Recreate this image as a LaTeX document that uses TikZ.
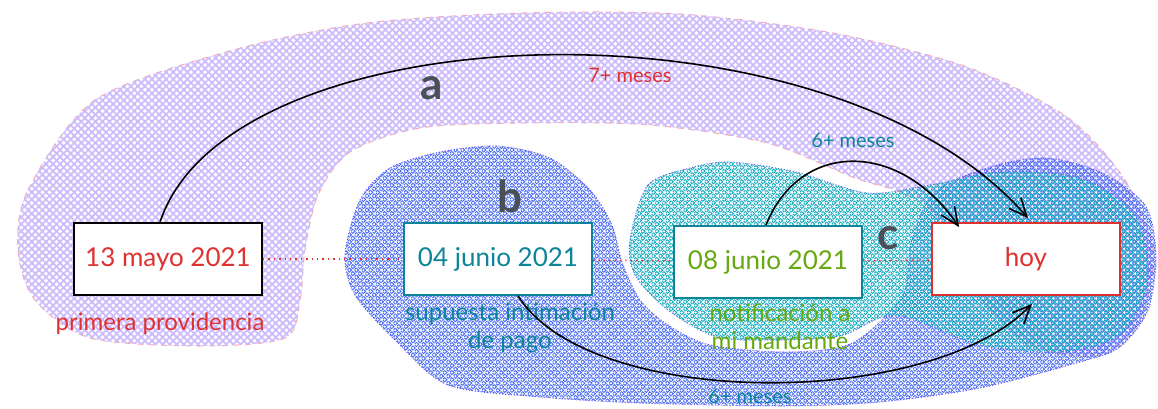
\documentclass[tikz,border=0pt]{standalone}
\usepackage{fontspec}
\setmainfont{Lato}
\usepackage{xcolor}
\usetikzlibrary{arrows.meta, positioning, patterns.meta}

\definecolor{violeta}{HTML}{B197FC}
\definecolor{azul}{HTML}{4C6EF5}
\definecolor{turquesa}{HTML}{15AABF}
\definecolor{rojo}{HTML}{E03131}
\definecolor{petroleo}{HTML}{0C8599}
\definecolor{verde}{HTML}{66A80F}
\definecolor{gris}{HTML}{495057}
\definecolor{rosa}{HTML}{FFA8A8}
\definecolor{lila}{HTML}{7950F2}

\begin{document}
\begin{tikzpicture}[x=0.5pt, y=-0.5pt, node distance=165pt]
    % Estilos
    \tikzset{
        fecha/.style = {rectangle, draw, fill=white, line width=.9pt, minimum width=94pt, minimum height=36pt, font=\fontsize{13}{15}\selectfont},
        nota/.style  = {align=center, font=\fontsize{12}{14}\selectfont},
        meses/.style = {font=\fontsize{10}{12}\selectfont},
        letra/.style = {text=gris, font=\fontsize{22}{24}\selectfont\bfseries},
        trama/.style 2 args = {postaction={pattern={Lines[angle=45, distance=2.5pt, line width=#2]}, pattern color=#1},
                        postaction={pattern={Lines[angle=-45, distance=2.5pt, line width=#2]}, pattern color=#1}},
        zona/.style  = {draw=#1, line width=.5pt, densely dotted},
        line/.style  = {draw, line width=.8pt, -{Straight Barb[length=9pt, width=8pt]}},
        punteado/.style = {draw=rojo, dotted, line width=.7pt}
    }
    \useasboundingbox (0,0) rectangle (1158,408);

    % Zonas a, b y c
    \path[zona=rosa, dashed, trama={violeta!65}{.9pt}] plot[smooth cycle] coordinates {
        (18,250) (28,190) (95,100) (233,50) (367,23) (523,13) (680,14) (833,33) (967,67) (1067,117)
        (1125,180) (1153,250) (1140,320) (1100,355) (1030,345) (975,290) (935,215) (900,192) (855,178)
        (767,143) (650,125) (523,123) (420,128) (350,152) (318,195) (305,250) (300,300) (285,338)
        (200,346) (90,338) (35,300)};
    \path[zona=lila, trama={azul}{1.4pt}] plot[smooth cycle] coordinates {
        (345,255) (360,200) (390,168) (440,152) (497,146) (550,158) (590,190) (612,225) (622,262)
        (640,300) (668,325) (710,345) (784,352) (845,346) (880,322) (905,290) (912,240) (935,192)
        (990,167) (1045,158) (1100,172) (1145,205) (1156,255) (1148,310) (1120,347) (1080,362)
        (980,388) (880,402) (784,406) (640,403) (540,397) (448,385) (395,340) (355,295)};
    \path[zona=lila, trama={turquesa}{1.3pt}] plot[smooth cycle] coordinates {
        (630,240) (648,185) (690,168) (730,162) (796,172) (867,193) (930,185) (1000,172) (1080,178)
        (1135,215) (1148,280) (1120,335) (1060,352) (980,345) (910,318) (880,318) (840,336)
        (780,340) (717,337) (668,310) (635,275)};

    % Fechas
    \node [fecha, draw=black, text=rojo] at (168,259) (uno) {13 mayo 2021};
    \node [fecha, draw=petroleo, text=petroleo, right of=uno] (dos) {04 junio 2021};
    \node [fecha, draw=petroleo, text=verde, right of=dos, xshift=-30pt, yshift=-1.5pt] (tres) {08 junio 2021};
    \node [fecha, draw=rojo, text=rojo, right of=tres, xshift=-36pt, yshift=1.5pt] (hoy) {hoy};

    % Notas debajo de las fechas
    \node [nota, text=rojo, below=5pt of uno, xshift=-4pt] (nuno) {primera providencia};
    \node [nota, text=petroleo, below=0pt of dos, xshift=6pt] (ndos) {supuesta intimación\\de pago};
    \node [nota, text=verde, below=-1pt of tres, xshift=6pt] (ntres) {notificación a\\mi mandante};

    % Letras de las zonas
    \node [letra] at (432,88) (la) {a};
    \node [letra] at (510,196) (lb) {b};
    \node [letra] at (888,238) (lc) {c};

    % Plazos
    \node [meses, text=rojo] at (630,75) (m7) {7+ meses};
    \node [meses, text=petroleo] at (853,140) (m6a) {6+ meses};
    \node [meses, text=petroleo] at (750,396) (m6b) {6+ meses};

    % Conexiones
    \path [punteado] (uno) -- (dos);
    \path [punteado] (dos) -- (tres);
    \path [punteado] (tres) -- (hoy);

    \path [line] ([xshift=-4pt]uno.north) .. controls (230,10) and (830,-10) .. ([xshift=1pt,yshift=2pt]hoy.north);
    \path [line] ([xshift=-1pt]tres.north) .. controls (800,140) and (900,140) .. ([xshift=14pt,yshift=-2.5pt]hoy.north west);
    \path [line] ([xshift=10pt]dos.south) .. controls (590,410) and (930,410) .. ([xshift=3pt,yshift=-4pt]hoy.south);
\end{tikzpicture}
\end{document}
